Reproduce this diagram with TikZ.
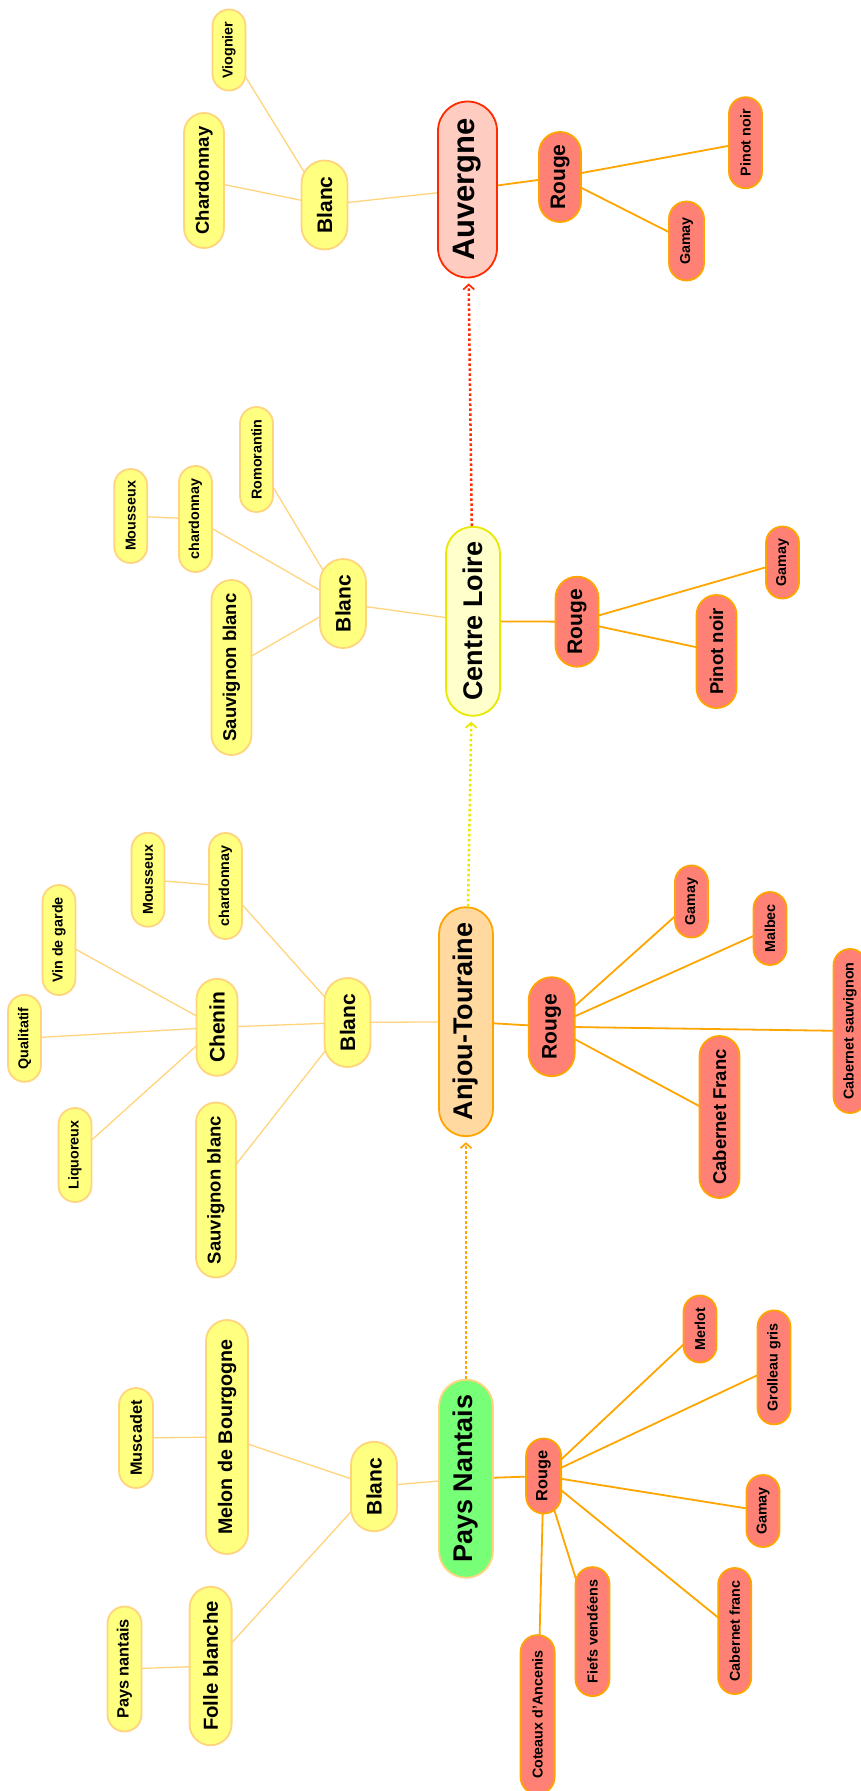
\documentclass[tikz,border=0pt]{standalone}
\usepackage{fontspec}
\setmainfont{Liberation Sans}
\usetikzlibrary{arrows.meta,backgrounds}

\definecolor{yfill}{HTML}{FFFF80}
\definecolor{yline}{HTML}{FFD47C}
\definecolor{rfill}{HTML}{FF8074}
\definecolor{rline}{HTML}{FFA500}
\definecolor{auvfill}{HTML}{FFCCC2}
\definecolor{auvline}{HTML}{FF2A00}
\definecolor{clfill}{HTML}{FFFFCC}
\definecolor{clline}{HTML}{E8E800}
\definecolor{anfill}{HTML}{FFD9A0}
\definecolor{pnfill}{HTML}{77FF77}

\tikzset{
  pill/.style={rotate=90, inner sep=0pt, line width=1.8pt},
  root/.style={pill, minimum height=54pt, rounded corners=27pt, font=\fontsize{27}{30}\selectfont\bfseries},
  tier/.style={pill, minimum height=46pt, rounded corners=23pt, font=\fontsize{21}{24}\selectfont\bfseries},
  leafL/.style={pill, minimum height=40pt, rounded corners=20pt, font=\fontsize{18.5}{21}\selectfont\bfseries},
  leafM/.style={pill, minimum height=34pt, rounded corners=17pt, font=\fontsize{16.3}{19}\selectfont\bfseries},
  leafS/.style={pill, minimum height=33pt, rounded corners=16.5pt, font=\fontsize{14.3}{16}\selectfont\bfseries},
  blanc/.style={fill=yfill, draw=yline},
  rouge/.style={fill=rfill, draw=rline},
  wb/.style={line width=1.3pt, yline},
  wr/.style={line width=1.8pt, rline},
  link/.style={-{Straight Barb[length=5pt,width=11pt,line width=1.7pt]}, line width=2.5pt, dash pattern=on 2.5pt off 2.5pt, shorten >=5pt}
}

\begin{document}
\begin{tikzpicture}[x=1pt, y=-1pt]
\useasboundingbox (0,0) rectangle (861,1791);

% Auvergne
\node[root, minimum width=176pt, minimum height=59pt, rounded corners=29.5pt, font=\fontsize{31}{34}\selectfont\bfseries, fill=auvfill, draw=auvline] (auv) at (467.5,189.5) {Auvergne};
\node[tier, blanc, minimum width=89pt] (auvB) at (324.5,205) {Blanc};
\node[leafL, blanc, minimum width=135pt] (auvChard) at (204,180.5) {Chardonnay};
\node[leafS, blanc, minimum width=81pt] (auvViog) at (229,50) {Viognier};
\node[tier, rouge, minimum width=90pt, minimum height=42pt, rounded corners=21pt] (auvR) at (560,177) {Rouge};
\node[leafS, rouge, minimum width=91pt] (auvPinot) at (745.5,142.7) {Pinot noir};
\node[leafS, rouge, minimum width=79pt, minimum height=35pt, rounded corners=17.5pt] (auvGamay) at (686.5,241) {Gamay};

% Centre Loire
\node[root, minimum width=189pt, fill=clfill, draw=clline] (cl) at (473,621.3) {Centre Loire};
\node[tier, blanc, minimum width=89pt] (clB) at (343,603.5) {Blanc};
\node[leafS, blanc, minimum width=105pt] (clRomo) at (256.5,459.5) {Romorantin};
\node[leafS, blanc, minimum width=106pt] (clChard) at (195.5,519) {chardonnay};
\node[leafS, blanc, minimum width=94pt] (clMouss) at (130.7,516) {Mousseux};
\node[leafL, blanc, minimum width=175pt] (clSauv) at (231.5,667.5) {Sauvignon blanc};
\node[tier, rouge, minimum width=90pt, minimum height=43pt, rounded corners=21.5pt] (clR) at (577,621.7) {Rouge};
\node[leafL, rouge, minimum width=113pt] (clPinot) at (716.5,651.5) {Pinot noir};
\node[leafS, rouge, minimum width=72pt] (clGamay) at (782.5,562.5) {Gamay};

% Anjou-Touraine
\node[root, minimum width=229pt, fill=anfill, draw=rline] (an) at (466,1021.7) {Anjou-Touraine};
\node[tier, blanc, minimum width=89pt] (anB) at (347.5,1022.5) {Blanc};
\node[tier, blanc, minimum width=97pt, minimum height=41pt, rounded corners=20.5pt] (anChen) at (217,1027.3) {Chenin};
\node[leafS, blanc, minimum width=106pt] (anChard) at (225.5,886) {chardonnay};
\node[leafS, blanc, minimum width=94pt] (anMouss) at (148,879.7) {Mousseux};
\node[leafS, blanc, minimum width=110pt] (anVin) at (59,940) {Vin de garde};
\node[leafS, blanc, minimum width=87pt] (anQual) at (24.5,1038.3) {Qualitatif};
\node[leafS, blanc, minimum width=94pt] (anLiq) at (75,1155) {Liquoreux};
\node[leafL, blanc, minimum width=175pt] (anSauv) at (216,1190) {Sauvignon blanc};
\node[tier, rouge, minimum width=99pt] (anR) at (551.7,1026.7) {Rouge};
\node[leafS, rouge, minimum width=72pt] (anGamay) at (691.5,901.5) {Gamay};
\node[leafS, rouge, minimum width=73pt] (anMalb) at (770,928.5) {Malbec};
\node[leafS, rouge, minimum width=164pt] (anCabS) at (850,1031) {Cabernet sauvignon};
\node[leafL, rouge, minimum width=162pt] (anCabF) at (719.5,1117) {Cabernet Franc};

% Pays Nantais
\node[root, minimum width=198pt, fill=pnfill, draw=yline] (pn) at (466,1478.7) {Pays Nantais};
\node[tier, blanc, minimum width=89.5pt] (pnB) at (374,1486.5) {Blanc};
\node[leafL, blanc, minimum width=234pt, minimum height=42pt, rounded corners=21pt, font=\fontsize{19.7}{22}\selectfont\bfseries] (pnMelon) at (227,1437) {Melon de Bourgogne};
\node[leafM, blanc, minimum width=100pt] (pnMusc) at (136,1438) {Muscadet};
\node[leafL, blanc, minimum width=158.5pt, minimum height=42pt, rounded corners=21pt, font=\fontsize{20.3}{23}\selectfont\bfseries] (pnFolle) at (210.6,1666) {Folle blanche};
\node[leafM, blanc, minimum width=125pt] (pnPays) at (124.5,1669) {Pays nantais};
\node[leafM, rouge, minimum width=75pt, minimum height=35pt, rounded corners=17.5pt] (pnR) at (543.6,1476) {Rouge};
\node[leafS, rouge, minimum width=67pt] (pnMerlot) at (700,1329) {Merlot};
\node[leafS, rouge, minimum width=114pt] (pnGroll) at (774,1367.4) {Grolleau gris};
\node[leafS, rouge, minimum width=72pt] (pnGamay) at (763,1511) {Gamay};
\node[leafS, rouge, minimum width=126pt] (pnCabF) at (734.7,1631) {Cabernet franc};
\node[leafS, rouge, minimum width=129pt, minimum height=34pt, rounded corners=17pt] (pnFiefs) at (592.5,1631.6) {Fiefs vendéens};
\node[leafS, rouge, minimum width=159pt, minimum height=34pt, rounded corners=17pt] (pnCot) at (537.6,1714.6) {Coteaux d'Ancenis};

\begin{pgfonlayer}{background}
% branches
\draw[wb] (auv.center) -- (auvB.center);
\draw[wb] (auvB.center) -- (auvChard.center);
\draw[wb] (auvB.center) -- (auvViog.center);
\draw[wr] (auv.center) -- (auvR.center);
\draw[wr] (auvR.center) -- (auvPinot.center);
\draw[wr] (auvR.center) -- (auvGamay.center);

\draw[wb] (cl.center) -- (clB.center);
\draw[wb] (clB.center) -- (clRomo.center);
\draw[wb] (clB.center) -- (clChard.center);
\draw[wb] (clChard.center) -- (clMouss.center);
\draw[wb] (clB.center) -- (clSauv.center);
\draw[wr] (cl.center) -- (clR.center);
\draw[wr] (clR.center) -- (clGamay.center);
\draw[wr] (clR.center) -- (clPinot.center);

\draw[wb] (an.center) -- (anB.center);
\draw[wb] (anB.center) -- (anChen.center);
\draw[wb] (anB.center) -- (anChard.center);
\draw[wb] (anChard.center) -- (anMouss.center);
\draw[wb] (anB.center) -- (anSauv.center);
\draw[wb] (anChen.center) -- (anVin.center);
\draw[wb] (anChen.center) -- (anQual.center);
\draw[wb] (anChen.center) -- (anLiq.center);
\draw[wr] (an.center) -- (anR.center);
\draw[wr] (anR.center) -- (anGamay.center);
\draw[wr] (anR.center) -- (anMalb.center);
\draw[wr] (anR.center) -- (anCabS.center);
\draw[wr] (anR.center) -- (anCabF.center);

\draw[wb] (pn.center) -- (pnB.center);
\draw[wb] (pnB.center) -- (pnMelon.center);
\draw[wb] (pnMelon.center) -- (pnMusc.center);
\draw[wb] (pnB.center) -- (pnFolle.center);
\draw[wb] (pnFolle.center) -- (pnPays.center);
\draw[wr] (pn.center) -- (pnR.center);
\draw[wr] (pnR.center) -- (pnMerlot.center);
\draw[wr] (pnR.center) -- (pnGroll.center);
\draw[wr] (pnR.center) -- (pnGamay.center);
\draw[wr] (pnR.center) -- (pnCabF.center);
\draw[wr] (pnR.center) -- (pnFiefs.center);
\draw[wr] (pnR.center) -- (pnCot.center);
\end{pgfonlayer}

% route
\draw[link, rline] (pn) -- (an);
\draw[link, clline] (an) -- (cl);
\draw[link, auvline] (cl) -- (auv);
\end{tikzpicture}
\end{document}
